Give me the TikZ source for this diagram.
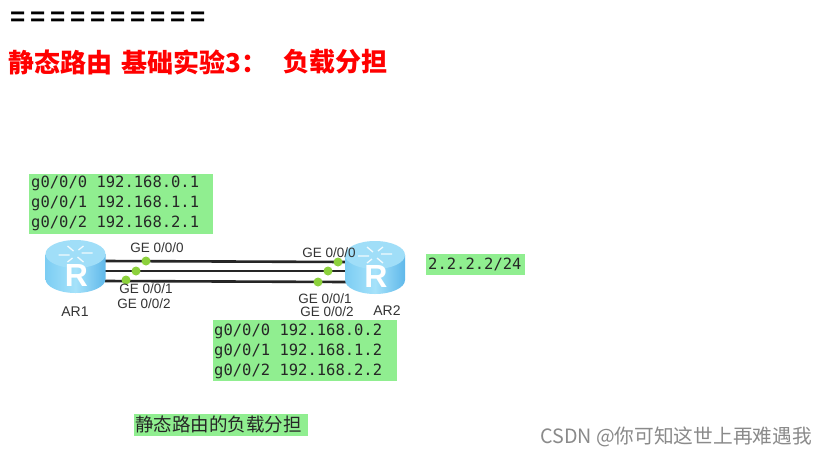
\documentclass[tikz,border=0pt]{standalone}
\usepackage{fontspec}
\setmainfont{Liberation Sans}
\newfontfamily\cjk{Noto Sans CJK SC}
\newfontfamily\monof{DejaVu Sans Mono}
\definecolor{hl}{HTML}{90EE90}
\definecolor{wm}{HTML}{8A8A8A}
\definecolor{dotg}{HTML}{8CD13C}
\definecolor{lab}{HTML}{333333}
\definecolor{rlight}{HTML}{A6E2FA}
\definecolor{rmid}{HTML}{7CCDF3}
\definecolor{rdark}{HTML}{5FB8EA}
\definecolor{rtop}{HTML}{A0DEF8}
\tikzset{
 iface/.style={font=\fontsize{13.5}{15}\selectfont,text=lab,inner sep=0pt},
 mono/.style={font=\monof\fontsize{15.5}{20}\selectfont,text=black!85,inner sep=0pt,align=left,anchor=west},
 port/.style={circle,fill=dotg,draw=none,minimum size=9pt,inner sep=0pt},
 link/.style={draw=black!85,line width=2.6pt},
 rname/.style={font=\fontsize{14}{15}\selectfont,text=lab,inner sep=0pt},
 title/.style={font=\cjk\bfseries\fontsize{26}{30}\selectfont,text=red,inner sep=0pt,anchor=west},
}
\newcommand{\routerdraw}[3]{% centre x, top y, name
 \begin{scope}[shift={(#1,#2)}]
  \path[left color=rmid,right color=rdark,middle color=rlight]
    (-30,14) -- (-30,39) arc[start angle=180,end angle=0,x radius=30,y radius=14] -- (30,14) -- cycle;
  \path[fill=rtop] (0,14) ellipse[x radius=30,y radius=14];
  \draw[white,line width=1.3pt,opacity=.85] (-17,15) -- (-6,15) (6,13) -- (17,13) (-8,6) -- (-2,11) (8,22) -- (2,17) (8,6) -- (3,10) (-8,22) -- (-3,18);
  \node[text=white,inner sep=0pt,font=\bfseries\fontsize{32}{32}\selectfont] (#3) at (1,35) {R};
 \end{scope}}
\begin{document}
\begin{tikzpicture}[x=1pt,y=-1pt]
\path[use as bounding box,fill=white] (0,0) rectangle (827,456);
% header
\node[inner sep=0pt,font=\bfseries\fontsize{26}{26}\selectfont,anchor=west] (eq) at (10,19) {=\kern4.8pt=\kern4.8pt=\kern4.8pt=\kern4.8pt=\kern4.8pt=\kern4.8pt=\kern4.8pt=\kern4.8pt=\kern4.8pt=};
\node[title] (t1) at (8,62) {静态路由};
\node[title] (t2) at (121,62) {基础实验3：};
\node[title] (t3) at (283,62) {负载分担};
% boxes
\fill[hl] (29,174) rectangle (213,234);
\fill[hl] (213,320) rectangle (397,381);
\fill[hl] (426,254) rectangle (525,275);
\fill[hl] (134,414) rectangle (308,436);
\node[mono] (a0) at (31,183) {g0/0/0 192.168.0.1};
\node[mono] (a1) at (31,203) {g0/0/1 192.168.1.1};
\node[mono] (a2) at (31,223) {g0/0/2 192.168.2.1};
\node[mono] (b0) at (214,331) {g0/0/0 192.168.0.2};
\node[mono] (b1) at (214,351) {g0/0/1 192.168.1.2};
\node[mono] (b2) at (214,371) {g0/0/2 192.168.2.2};
\node[mono] (ip) at (428,264) {2.2.2.2/24};
\node[inner sep=0pt,font=\cjk\fontsize{18.5}{20}\selectfont,text=black!85,anchor=west] (cap) at (135,424) {静态路由的负载分担};
% links
\coordinate (l0) at (105,261); \coordinate (r0) at (346,262);
\coordinate (l1) at (105,271); \coordinate (r1) at (346,271);
\coordinate (l2) at (105,281); \coordinate (r2) at (346,282);
\draw[link] (l0) -- (r0);
\draw[link] (l1) -- (r1);
\draw[link] (l2) -- (r2);
% routers
\routerdraw{75.5}{240}{R1}
\routerdraw{375}{241}{R2}
% ports
\node[port] (p0) at (146,261) {};
\node[port] (p1) at (136,271) {};
\node[port] (p2) at (126,280) {};
\node[port] (q0) at (338,262) {};
\node[port] (q1) at (328,271) {};
\node[port] (q2) at (318,282) {};
% labels
\node[iface] (la0) at (157,248) {GE 0/0/0};
\node[iface] (la1) at (146,289) {GE 0/0/1};
\node[iface] (la2) at (144,304) {GE 0/0/2};
\node[iface] (lb0) at (329,253) {GE 0/0/0};
\node[iface] (lb1) at (325,299) {GE 0/0/1};
\node[iface] (lb2) at (327,312) {GE 0/0/2};
\node[rname] (n1) at (75,312) {AR1};
\node[rname] (n2) at (387,311) {AR2};
% watermark
\node[inner sep=0pt,anchor=west,text=wm,font=\cjk\fontsize{19.7}{22}\selectfont] (wm) at (540,437) {CSDN @你可知这世上再难遇我};
\end{tikzpicture}
\end{document}
